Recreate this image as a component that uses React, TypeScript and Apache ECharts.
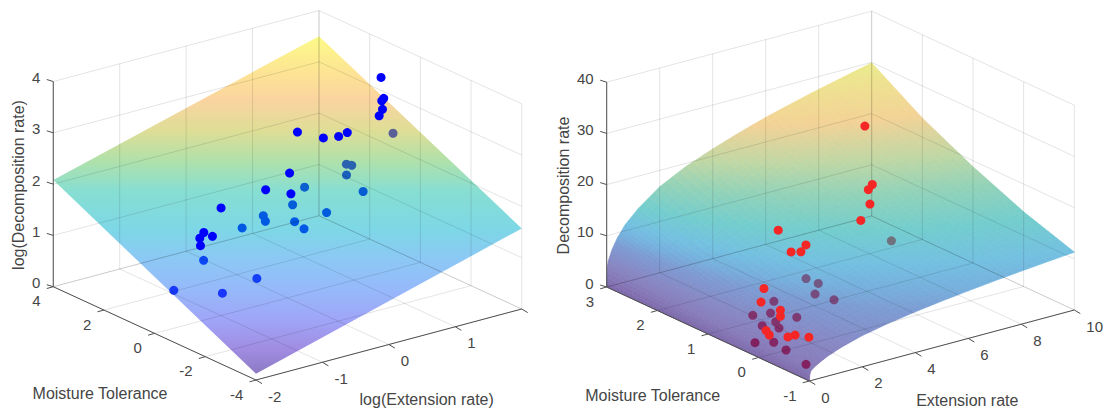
import React, { useEffect, useRef } from "react";
import * as echarts from "echarts";

type V3 = number[];

// ---------- left panel data: [log extension, moisture, log decomposition]
const leftXTicks = [-2, -1, 0, 1, 2];
const leftXTickLabels = ["-2", "-1", "0", "1", ""];
const leftYTicks = [4, 2, 0, -2, -4];
const leftZTicks = [0, 1, 2, 3, 4];
const leftSurfaceX = [-2, 2];
const leftSurfaceY = [4, -4];
const leftSurfaceZ = [
  [2.08, 3.5],
  [0.12, 1.57],
];
const leftPointsAbove: V3[] = [
  [1.79, 1, 3.45], [1.83, 1, 3.03], [1.61, 0.5, 3.17], [1.43, 0, 3.18], [1.38, 0, 3.07],
  [0.15, 0, 3.18], [0.54, 0, 2.93], [0.77, 0, 2.88], [0.9, 0, 2.91], [-0.35, -1, 2.78],
  [-0.71, -1, 2.58], [-0.33, -1, 2.37], [-1, 0, 2.1], [-1.26, 0, 1.71], [-1.13, 0, 1.59],
  [-1.32, 0, 1.62], [-1.31, 0, 1.47],
];
const leftPointsBelow: V3[] = [
  [1.97, 1, 2.3], [1.65, 2, 1.58], [1.73, 2, 1.53], [1.27, 1, 1.73], [1.02, 2, 1.35],
  [1.52, 1, 1.32], [0.84, 2, 1.07], [0.97, 1, 1.1], [0.87, 2, 0.73], [0.63, 1, 0.9],
  [0.78, 3, 0.65], [0.43, 2, 0.89], [0.08, 2, 0.88], [-0.5, 2, 0.45], [-0.08, 1, 0.18],
  [-1.33, 1, 0.38], [-0.98, 0, 0.43],
];
const leftColorZ = [0.12, 0.36, 0.66, 0.965, 1.26, 1.56, 1.95, 2.25, 2.55, 2.86, 3.09, 3.5];
const leftColorRGB = [
  [140, 122, 195], [160, 140, 225], [160, 165, 248], [150, 185, 250], [140, 200, 245], [125, 215, 230],
  [135, 222, 210], [175, 225, 170], [222, 222, 150], [250, 212, 160], [253, 225, 150], [252, 250, 135],
];

// ---------- right panel data: [extension, moisture, decomposition]
const rightXTicks = [0, 2, 4, 6, 8, 10];
const rightXTickLabels = ["0", "2", "4", "6", "8", "10"];
const rightYTicks = [3, 2, 1, 0, -1];
const rightZTicks = [0, 10, 20, 30, 40];
const rightSurfaceX = [0, 0.02, 0.06, 0.2, 0.4, 0.7, 1.2, 2, 3, 4, 5, 6, 7, 8, 9, 10];
const rightSurfaceY = [3, 2, 1, 0, -1];
const rightSurfaceZ = [
  [0, 3.7, 5.0, 7.0, 9.0, 11.2, 13.7, 16.8, 19.4, 21.4, 23.2, 24.8, 26.2, 27.5, 28.7, 29.9],
  [0, 2.85, 3.94, 5.42, 6.9, 8.6, 10.66, 13.15, 15.26, 16.87, 18.34, 19.6, 20.79, 21.81, 22.79, 23.71],
  [0, 2.2, 3.1, 4.2, 5.3, 6.6, 8.3, 10.3, 12, 13.3, 14.5, 15.5, 16.5, 17.3, 18.1, 18.8],
  [0, 1.69, 2.43, 3.24, 4.05, 5.07, 6.38, 7.93, 9.26, 10.3, 11.22, 12, 12.76, 13.4, 14.02, 14.58],
  [0, 1.3, 1.9, 2.5, 3.1, 3.9, 4.9, 6.1, 7.15, 7.97, 8.68, 9.3, 9.87, 10.38, 10.86, 11.3],
];
const rightPointsAbove: V3[] = [
  [5.92, 1, 32.4], [6.2, 1, 20.6], [6.05, 1, 19.8], [6.11, 1, 16.9], [4.81, 0.5, 17.8],
  [2.65, 1, 16.6], [2.74, 0.5, 15.9], [2.18, 0.5, 15.3], [2.55, 0.5, 14.8], [0.2, 0, 13.2],
  [0.09, 0, 10.7], [0.82, 0, 8.1], [0.82, 0, 6.9], [0.09, -0.1, 5.6], [0.21, -0.1, 4.56],
  [0.42, -0.5, 6.1], [0.15, -0.5, 6.1], [0.56, -0.7, 6.4],
];
const rightPointsBelow: V3[] = [
  [6.92, 1, 8.6], [3.7, 1, 5.7], [4.16, 1, 4.1], [4.04, 1, 2.2], [3.8, 0.5, 3.7],
  [1.53, 0.5, 6.55], [1.69, 1, 1.3], [2.36, 1, 0.82], [1.44, 0, 5.86], [1.6, 0.5, 2.47],
  [1.09, 0.5, 2.41], [1.15, 0.2, 3.24], [0.245, 0.2, 1.64], [0.57, 0, 2.19], [0.46, -0.3, 2.2],
  [0.45, -0.7, 1.26],
];
const rightColorZ = [0, 2.5, 5, 8, 9.5, 11.3, 14, 17, 20, 24, 30];
const rightColorRGB = [
  [125, 105, 170], [135, 122, 185], [135, 135, 195], [125, 155, 210], [118, 175, 220], [115, 192, 225],
  [115, 205, 205], [145, 210, 185], [190, 215, 165], [243, 210, 150], [235, 235, 140],
];

// ---------- panels (view geometry: axis corner positions on the page)
const panels = [
  {
    origin: [256, 380], ex: [66.43, -17.75], ey: [-25.34, -11.66], ez: [0, -51.3],
    x0: -2, x1: 2, y0: -4, y1: 4, z1: 4,
    xTicks: leftXTicks, xLabels: leftXTickLabels, yTicks: leftYTicks, zTicks: leftZTicks,
    sx: leftSurfaceX, sy: leftSurfaceY, sz: leftSurfaceZ,
    colorZ: leftColorZ, colorRGB: leftColorRGB,
    above: leftPointsAbove, below: leftPointsBelow, pointColor: [0, 0, 255], seeThrough: 0.5,
    planar: true, subX: 1, subY: 1,
    xTitle: "log(Extension rate)", xTitlePos: [426.7, 399.3],
    yTitle: "Moisture Tolerance", yTitlePos: [100, 393.7],
    zTitle: "log(Decomposition rate)", zTitlePos: [18, 185],
  },
  {
    origin: [809.3, 381], ex: [26.5, -7.1], ey: [-50.65, -23.5], ez: [0, -5.12],
    x0: 0, x1: 10, y0: -1, y1: 3, z1: 40,
    xTicks: rightXTicks, xLabels: rightXTickLabels, yTicks: rightYTicks, zTicks: rightZTicks,
    sx: rightSurfaceX, sy: rightSurfaceY, sz: rightSurfaceZ,
    colorZ: rightColorZ, colorRGB: rightColorRGB,
    above: rightPointsAbove, below: rightPointsBelow, pointColor: [245, 38, 38], seeThrough: 0.4,
    planar: false, subX: 4, subY: 12,
    xTitle: "Extension rate", xTitlePos: [967.3, 400.3],
    yTitle: "Moisture Tolerance", yTitlePos: [652.7, 395],
    zTitle: "Decomposition rate", zTitlePos: [563, 185.5],
  },
];
type Panel = (typeof panels)[number];

const project = (p: Panel, v: V3) => [
  p.origin[0] + (v[0] - p.x0) * p.ex[0] + (v[1] - p.y0) * p.ey[0] + v[2] * p.ez[0],
  p.origin[1] + (v[0] - p.x0) * p.ex[1] + (v[1] - p.y0) * p.ey[1] + v[2] * p.ez[1],
];

const segIndex = (arr: number[], v: number) => {
  const asc = arr[arr.length - 1] > arr[0];
  for (let i = 0; i < arr.length - 1; i++) {
    if (asc ? v <= arr[i + 1] : v >= arr[i + 1]) return i;
  }
  return arr.length - 2;
};

const surfaceAt = (p: Panel, x: number, y: number) => {
  const i = segIndex(p.sx, x);
  const j = segIndex(p.sy, y);
  const a = (x - p.sx[i]) / (p.sx[i + 1] - p.sx[i]);
  const b = (y - p.sy[j]) / (p.sy[j + 1] - p.sy[j]);
  const top = p.sz[j][i] * (1 - a) + p.sz[j][i + 1] * a;
  const bot = p.sz[j + 1][i] * (1 - a) + p.sz[j + 1][i + 1] * a;
  return top * (1 - b) + bot * b;
};

const rgbAt = (p: Panel, z: number) => {
  const zs = p.colorZ;
  if (z <= zs[0]) return p.colorRGB[0];
  if (z >= zs[zs.length - 1]) return p.colorRGB[zs.length - 1];
  const i = segIndex(zs, z);
  const a = (z - zs[i]) / (zs[i + 1] - zs[i]);
  return p.colorRGB[i].map((c, k) => c + (p.colorRGB[i + 1][k] - c) * a);
};
const css = (c: number[]) =>
  `rgb(${c.map((v) => Math.round(Math.max(0, Math.min(255, v)))).join(",")})`;

// The surface is see-through: a point under it shows the sheet's tint on top.
const tintedColor = (p: Panel, v: V3) => {
  const det = p.ex[0] * p.ey[1] - p.ex[1] * p.ey[0];
  const h = -p.ez[1];
  const vx = (-p.ey[0] * h) / det;
  const vy = (p.ex[0] * h) / det;
  const step = p.z1 / 400;
  let hit = surfaceAt(p, v[0], v[1]);
  for (let t = 0; t < p.z1 * 3; t += step) {
    const x = v[0] + vx * t;
    const y = v[1] + vy * t;
    if (x < p.x0 || y < p.y0) break;
    const s = surfaceAt(p, x, y);
    if (v[2] + t >= s) {
      hit = s;
      break;
    }
  }
  const c = rgbAt(p, hit);
  return css(c.map((k, i) => k - p.seeThrough * (255 - p.pointColor[i])));
};

const surfaceSeries = (p: Panel) => ({
  type: "custom",
  coordinateSystem: "cartesian2d",
  silent: true,
  clip: false,
  z: 1,
  data: [[0, 0]],
  renderItem: (_: any, api: any) => {
    const children: any[] = [];
    for (let j = 0; j < p.sy.length - 1; j++) {
      for (let i = 0; i < p.sx.length - 1; i++) {
        for (let m = 0; m < p.subY; m++) {
          for (let n = 0; n < p.subX; n++) {
            const xa = p.sx[i] + ((p.sx[i + 1] - p.sx[i]) * n) / p.subX;
            const xb = p.sx[i] + ((p.sx[i + 1] - p.sx[i]) * (n + 1)) / p.subX;
            const ya = p.sy[j] + ((p.sy[j + 1] - p.sy[j]) * m) / p.subY;
            const yb = p.sy[j] + ((p.sy[j + 1] - p.sy[j]) * (m + 1)) / p.subY;
            const corners = [[xa, ya], [xb, ya], [xb, yb], [xa, yb]].map(([x, y]) => [x, y, surfaceAt(p, x, y)]);
            const points = corners.map((c) => api.coord(project(p, c)));
            if (p.planar) {
              // A plane whose height changes only with page height: one smooth sheet.
              const lo = corners.reduce((a, c) => (c[2] < a[2] ? c : a));
              const hi = corners.reduce((a, c) => (c[2] > a[2] ? c : a));
              const yLo = api.coord(project(p, lo))[1];
              const yHi = api.coord(project(p, hi))[1];
              const fill = new echarts.graphic.LinearGradient(
                0, yLo, 0, yHi,
                p.colorZ.map((z, k) => ({
                  offset: Math.max(0, Math.min(1, (z - lo[2]) / (hi[2] - lo[2]))),
                  color: css(p.colorRGB[k]),
                })),
                true
              );
              children.push({ type: "polygon", shape: { points }, style: { fill } });
            } else {
              const avg = corners.reduce((s, c) => s + c[2], 0) / 4;
              const col = css(rgbAt(p, avg));
              children.push({ type: "polygon", shape: { points }, style: { fill: col, stroke: col, lineWidth: 0.7 } });
            }
          }
        }
      }
    }
    return { type: "group", children };
  },
});

const gridSegments = (p: Panel): V3[][] => {
  const segs: V3[][] = [];
  for (const x of p.xTicks) {
    segs.push([[x, p.y0, 0], [x, p.y1, 0]]);
    segs.push([[x, p.y1, 0], [x, p.y1, p.z1]]);
  }
  for (const y of p.yTicks) {
    segs.push([[p.x0, y, 0], [p.x1, y, 0]]);
    segs.push([[p.x1, y, 0], [p.x1, y, p.z1]]);
  }
  for (const z of p.zTicks) {
    segs.push([[p.x0, p.y1, z], [p.x1, p.y1, z]]);
    segs.push([[p.x1, p.y1, z], [p.x1, p.y0, z]]);
  }
  return segs;
};

const gridSeries = (p: Panel) => ({
  type: "custom",
  coordinateSystem: "cartesian2d",
  silent: true,
  clip: false,
  z: 3,
  data: [[0, 0]],
  renderItem: (_: any, api: any) => ({
    type: "group",
    children: gridSegments(p).map(([a, b]) => {
      const s = api.coord(project(p, a));
      const e = api.coord(project(p, b));
      return {
        type: "line",
        shape: { x1: s[0], y1: s[1], x2: e[0], y2: e[1] },
        style: { stroke: "rgba(0,0,0,0.11)", lineWidth: 1 },
      };
    }),
  }),
});

const INK = "#454545";
const TICK_FONT = '15px "Liberation Sans", Arial, sans-serif';
const TITLE_FONT = '16px "Liberation Sans", Arial, sans-serif';

const label = (text: string, x: number, y: number, align: string, font: string, rotation = 0) => ({
  type: "text",
  x,
  y,
  rotation,
  style: {
    text, x: 0, y: 0, fill: INK, font,
    align, verticalAlign: "middle", textAlign: align, textVerticalAlign: "middle",
  },
});

const axesSeries = (p: Panel) => ({
  type: "custom",
  coordinateSystem: "cartesian2d",
  silent: true,
  clip: false,
  z: 5,
  data: [[0, 0]],
  renderItem: (_: any, api: any) => {
    const pt = (v: V3) => api.coord(project(p, v));
    const children: any[] = [];
    const line = (a: number[], b: number[]) =>
      children.push({
        type: "line",
        shape: { x1: a[0], y1: a[1], x2: b[0], y2: b[1] },
        style: { stroke: "#505050", lineWidth: 1 },
      });
    line(pt([p.x0, p.y0, 0]), pt([p.x1, p.y0, 0]));
    line(pt([p.x0, p.y0, 0]), pt([p.x0, p.y1, 0]));
    line(pt([p.x0, p.y1, 0]), pt([p.x0, p.y1, p.z1]));
    p.xTicks.forEach((x, i) => {
      const a = pt([x, p.y0, 0]);
      line(a, [a[0] + 6, a[1] + 3.6]);
      if (p.xLabels[i]) children.push(label(p.xLabels[i], a[0] + 12, a[1] + 16, "left", TICK_FONT));
    });
    p.yTicks.forEach((y) => {
      const a = pt([p.x0, y, 0]);
      line(a, [a[0] - 6.5, a[1] + 1.8]);
      children.push(label(String(y), a[0] - 12.7, a[1] + 14, "right", TICK_FONT));
    });
    p.zTicks.forEach((z) => {
      const a = pt([p.x0, p.y1, z]);
      line(a, [a[0] - 6.5, a[1] - 2]);
      children.push(label(String(z), a[0] - 13, a[1] - 4, "right", TICK_FONT));
    });
    children.push(label(p.xTitle, p.xTitlePos[0], p.xTitlePos[1], "center", TITLE_FONT));
    children.push(label(p.yTitle, p.yTitlePos[0], p.yTitlePos[1], "center", TITLE_FONT));
    children.push(label(p.zTitle, p.zTitlePos[0], p.zTitlePos[1], "center", TITLE_FONT, Math.PI / 2));
    return { type: "group", children };
  },
});

const belowSeries = (p: Panel) => ({
  type: "scatter",
  silent: true,
  z: 2,
  symbolSize: 9,
  data: p.below.map((v) => ({ value: project(p, v), itemStyle: { color: tintedColor(p, v), opacity: 1 } })),
});

const aboveSeries = (p: Panel) => ({
  type: "scatter",
  silent: true,
  z: 4,
  symbolSize: 9,
  data: p.above.map((v) => ({ value: project(p, v), itemStyle: { color: css(p.pointColor), opacity: 1 } })),
});

export default function App() {
  const ref = useRef<HTMLDivElement>(null);
  useEffect(() => {
    document.body.style.margin = "0";
    const chart = echarts.init(ref.current!, undefined, { renderer: "svg" });
    chart.setOption({
      animation: false,
      backgroundColor: "#ffffff",
      grid: { left: 0, right: 0, top: 0, bottom: 0 },
      xAxis: { type: "value", min: 0, max: 1111, show: false },
      yAxis: { type: "value", min: 0, max: 412, inverse: true, show: false },
      series: panels.flatMap((p) => [
        surfaceSeries(p),
        belowSeries(p),
        gridSeries(p),
        aboveSeries(p),
        axesSeries(p),
      ]),
    });
    return () => chart.dispose();
  }, []);
  return <div ref={ref} style={{ width: 1111, height: 412 }} />;
}
